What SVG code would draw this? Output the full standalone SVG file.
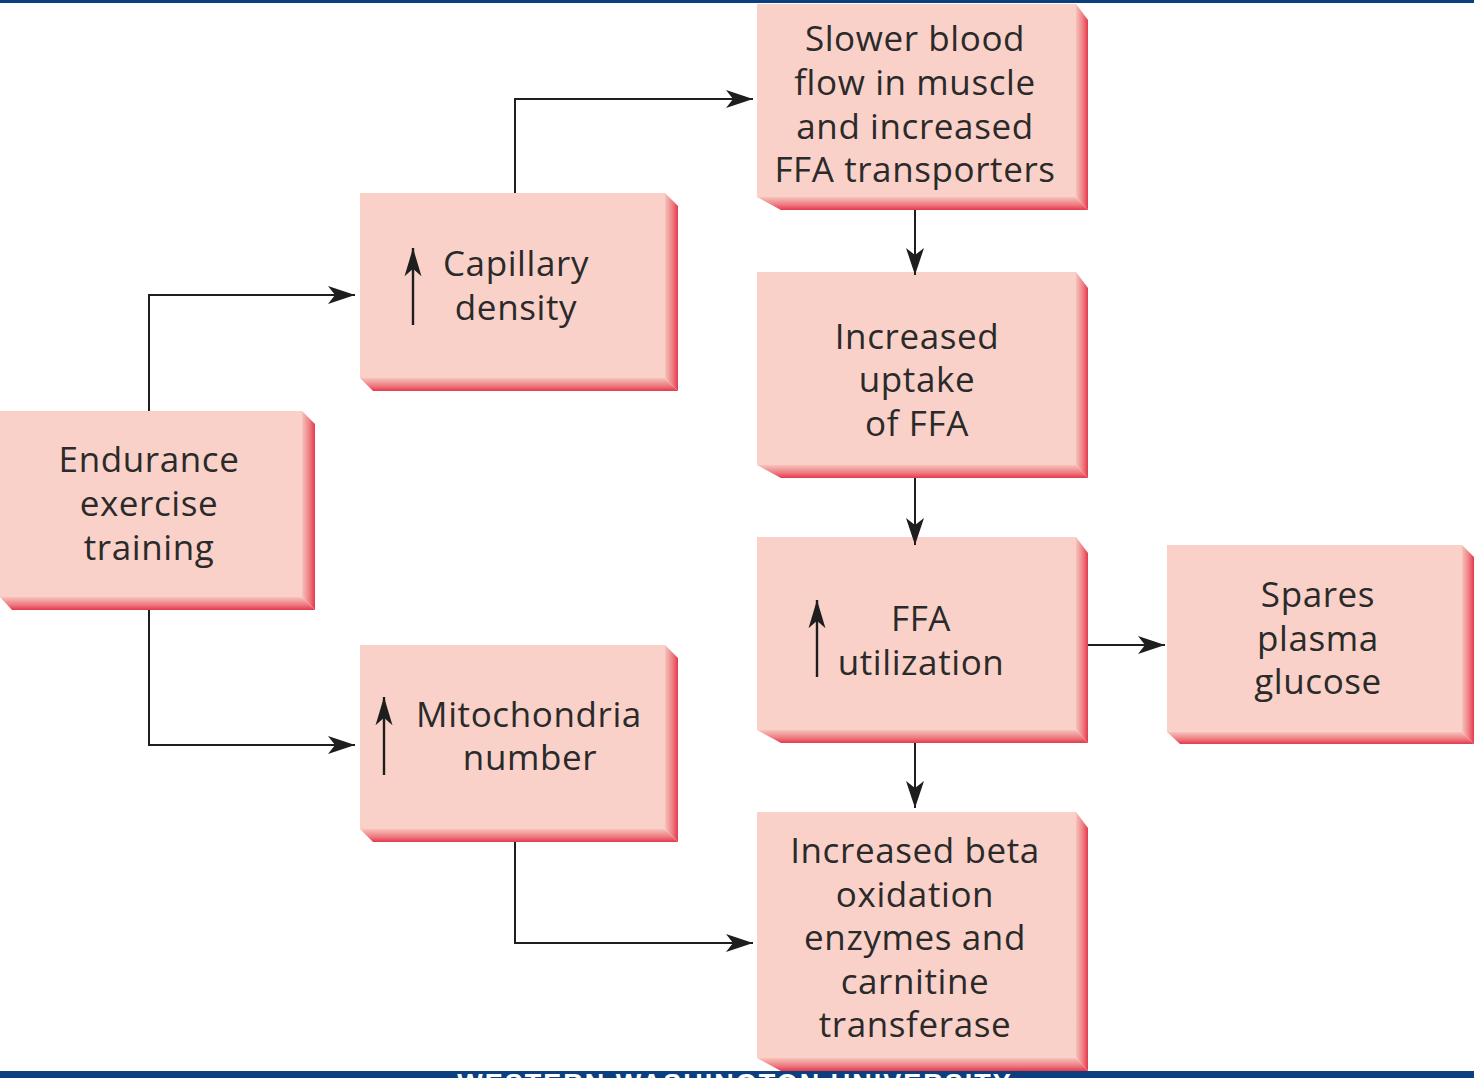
<svg xmlns="http://www.w3.org/2000/svg" width="1474" height="1078" viewBox="0 0 1474 1078">
<defs>
<linearGradient id="gR" x1="0" y1="0" x2="1" y2="0"><stop offset="0" stop-color="#F6C3BB"/><stop offset="0.6" stop-color="#EE7A80"/><stop offset="1" stop-color="#E5384D"/></linearGradient>
<linearGradient id="gB" x1="0" y1="0" x2="0" y2="1"><stop offset="0" stop-color="#F6C3BB"/><stop offset="0.6" stop-color="#EE7A80"/><stop offset="1" stop-color="#E5384D"/></linearGradient>
<marker id="ah" markerUnits="userSpaceOnUse" markerWidth="30" markerHeight="22" viewBox="-28 -11 30 22" refX="0" refY="0" orient="auto"><path d="M0,0 L-27,-9 L-20,0 L-27,9 Z" fill="#1e1e1e"/></marker>
<marker id="up" markerUnits="userSpaceOnUse" markerWidth="32" markerHeight="22" viewBox="-32 -11 34 22" refX="0" refY="0" orient="auto"><path d="M0,0 L-30,-9 L-22,0 L-30,9 Z" fill="#1e1e1e"/></marker>
<clipPath id="barclip"><rect x="0" y="1071" width="1474" height="7"/></clipPath>
</defs>
<style>
.face{fill:#F9D1C8}
.rf{fill:url(#gR)}
.bf{fill:url(#gB)}
.t{font-family:"Open Sans","Liberation Sans",sans-serif;font-size:35px;letter-spacing:0.6px;fill:#2a2a2a;text-anchor:middle}
.c{fill:none;stroke:#1e1e1e;stroke-width:2}
.ua{fill:none;stroke:#1e1e1e;stroke-width:2.4}
</style>
<rect x="0" y="0" width="1474" height="1078" fill="#ffffff"/>
<rect x="0" y="0" width="1474" height="3" fill="#0B3F80"/>
<rect x="0" y="1071" width="1474" height="7" fill="#0B3F80"/>
<text x="735" y="1093" clip-path="url(#barclip)" font-family="Liberation Sans, sans-serif" font-weight="bold" font-size="27" fill="#ffffff" text-anchor="middle" letter-spacing="2">WESTERN WASHINGTON UNIVERSITY</text>

<g id="endurance">
<polygon class="rf" points="302,411 315,424 315,610 302,597"/>
<polygon class="bf" points="0,597 302,597 315,610 12,610"/>
<rect class="face" x="0" y="411" width="302" height="186"/>
<text class="t" x="149" y="472">Endurance</text>
<text class="t" x="149" y="516">exercise</text>
<text class="t" x="149" y="560">training</text>
</g>

<g id="capillary">
<polygon class="rf" points="665,193 678,206 678,391 665,378"/>
<polygon class="bf" points="360,378 665,378 678,391 373,391"/>
<rect class="face" x="360" y="193" width="305" height="185"/>
<path class="ua" d="M413,325 V248" marker-end="url(#up)"/>
<text class="t" x="516" y="276">Capillary</text>
<text class="t" x="516" y="320">density</text>
</g>

<g id="mitochondria">
<polygon class="rf" points="665,645 678,658 678,842 665,829"/>
<polygon class="bf" points="360,829 665,829 678,842 373,842"/>
<rect class="face" x="360" y="645" width="305" height="184"/>
<path class="ua" d="M384,775 V697" marker-end="url(#up)"/>
<text class="t" x="529" y="727">Mitochondria</text>
<text class="t" x="530" y="770">number</text>
</g>

<g id="slower">
<polygon class="rf" points="1076,4 1088,20 1088,210 1076,197"/>
<polygon class="bf" points="757,197 1076,197 1088,210 781,210"/>
<rect class="face" x="757" y="4" width="319" height="193"/>
<text class="t" x="915" y="51">Slower blood</text>
<text class="t" x="915" y="95">flow in muscle</text>
<text class="t" x="915" y="139">and increased</text>
<text class="t" x="915" y="182">FFA transporters</text>
</g>

<g id="uptake">
<polygon class="rf" points="1076,272 1088,288 1088,478 1076,465"/>
<polygon class="bf" points="757,465 1076,465 1088,478 781,478"/>
<rect class="face" x="757" y="272" width="319" height="193"/>
<text class="t" x="917" y="349">Increased</text>
<text class="t" x="917" y="392">uptake</text>
<text class="t" x="917" y="436">of FFA</text>
</g>

<g id="utilization">
<polygon class="rf" points="1076,537 1088,553 1088,743 1076,730"/>
<polygon class="bf" points="757,730 1076,730 1088,743 781,743"/>
<rect class="face" x="757" y="537" width="319" height="193"/>
<path class="ua" d="M817,677 V600" marker-end="url(#up)"/>
<text class="t" x="921" y="631">FFA</text>
<text class="t" x="921" y="675">utilization</text>
</g>

<g id="spares">
<polygon class="rf" points="1462,545 1474,557 1474,744 1462,732"/>
<polygon class="bf" points="1167,732 1462,732 1474,744 1180,744"/>
<rect class="face" x="1167" y="545" width="295" height="187"/>
<text class="t" x="1318" y="607">Spares</text>
<text class="t" x="1318" y="651">plasma</text>
<text class="t" x="1318" y="694">glucose</text>
</g>

<g id="betaox">
<polygon class="rf" points="1076,812 1088,828 1088,1071 1076,1058"/>
<polygon class="bf" points="757,1058 1076,1058 1088,1071 781,1071"/>
<rect class="face" x="757" y="812" width="319" height="246"/>
<text class="t" x="915" y="863">Increased beta</text>
<text class="t" x="915" y="907">oxidation</text>
<text class="t" x="915" y="950">enzymes and</text>
<text class="t" x="915" y="994">carnitine</text>
<text class="t" x="915" y="1037">transferase</text>
</g>

<g id="connectors">
<path class="c" d="M149,411 V295 H355" marker-end="url(#ah)"/>
<path class="c" d="M149,610 V745 H355" marker-end="url(#ah)"/>
<path class="c" d="M515,193 V99 H753" marker-end="url(#ah)"/>
<path class="c" d="M515,842 V943 H753" marker-end="url(#ah)"/>
<path class="c" d="M915,210 V275" marker-end="url(#ah)"/>
<path class="c" d="M915,478 V545" marker-end="url(#ah)"/>
<path class="c" d="M915,743 V808" marker-end="url(#ah)"/>
<path class="c" d="M1088,645 H1165" marker-end="url(#ah)"/>
</g>
</svg>
